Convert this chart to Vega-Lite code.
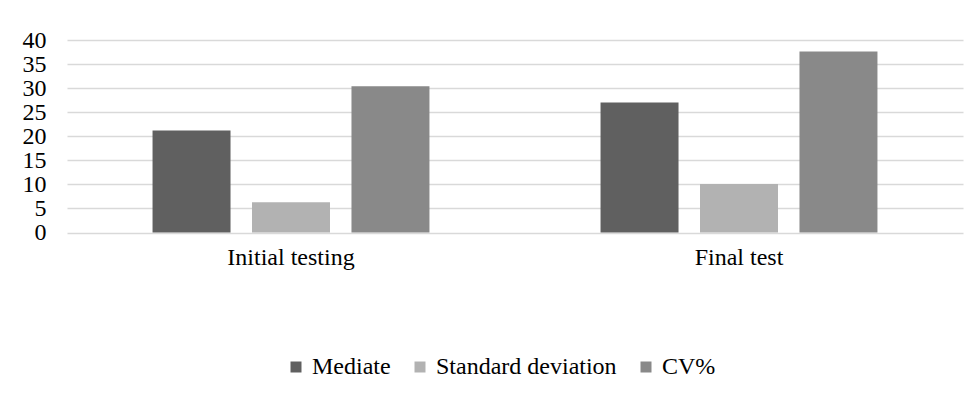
{
  "$schema": "https://vega.github.io/schema/vega-lite/v6.json",
  "autosize": {"type": "none"},
  "width": 896,
  "height": 192.5,
  "padding": {"left": 67, "top": 40, "right": 12, "bottom": 163.5},
  "background": "white",
  "config": {
    "font": "Liberation Serif",
    "axis": {"labelFont": "Liberation Serif"},
    "legend": {"labelFont": "Liberation Serif"},
    "view": {"stroke": null}
  },
  "data": {
    "values": [
      {"test": "Initial testing", "measure": "Mediate", "value": 21.2},
      {"test": "Initial testing", "measure": "Standard deviation", "value": 6.3},
      {"test": "Initial testing", "measure": "CV%", "value": 30.4},
      {"test": "Final test", "measure": "Mediate", "value": 27.0},
      {"test": "Final test", "measure": "Standard deviation", "value": 10.1},
      {"test": "Final test", "measure": "CV%", "value": 37.6}
    ]
  },
  "mark": {"type": "bar"},
  "encoding": {
    "x": {
      "field": "test",
      "type": "nominal",
      "sort": ["Initial testing", "Final test"],
      "scale": {"paddingInner": 0, "paddingOuter": 0},
      "axis": {
        "title": null,
        "labelAngle": 0,
        "labelFont": "Liberation Serif",
        "labelFontSize": 24,
        "labelColor": "#000000",
        "labelPadding": 13,
        "ticks": false,
        "domain": false
      }
    },
    "xOffset": {
      "field": "measure",
      "type": "nominal",
      "sort": ["Mediate", "Standard deviation", "CV%"],
      "scale": {"paddingInner": 0.216, "paddingOuter": 0.86}
    },
    "y": {
      "field": "value",
      "type": "quantitative",
      "scale": {"domain": [0, 40], "nice": false},
      "axis": {
        "title": null,
        "values": [0, 5, 10, 15, 20, 25, 30, 35, 40],
        "labelFont": "Liberation Serif",
        "labelFontSize": 24,
        "labelColor": "#000000",
        "labelPadding": 21,
        "ticks": false,
        "domain": false,
        "gridColor": "#d9d9d9",
        "gridWidth": 1.5
      }
    },
    "color": {
      "field": "measure",
      "type": "nominal",
      "sort": ["Mediate", "Standard deviation", "CV%"],
      "scale": {
        "domain": ["Mediate", "Standard deviation", "CV%"],
        "range": ["#606060", "#b2b2b2", "#898989"]
      },
      "legend": {
        "title": null,
        "orient": "none",
        "direction": "horizontal",
        "legendX": 217,
        "legendY": 315,
        "padding": 0,
        "symbolType": "square",
        "symbolSize": 121,
        "symbolStrokeWidth": 0,
        "labelFont": "Liberation Serif",
        "labelFontSize": 24,
        "labelLimit": 400,
        "labelColor": "#000000",
        "labelOffset": 4,
        "columnPadding": 17
      }
    }
  }
}
